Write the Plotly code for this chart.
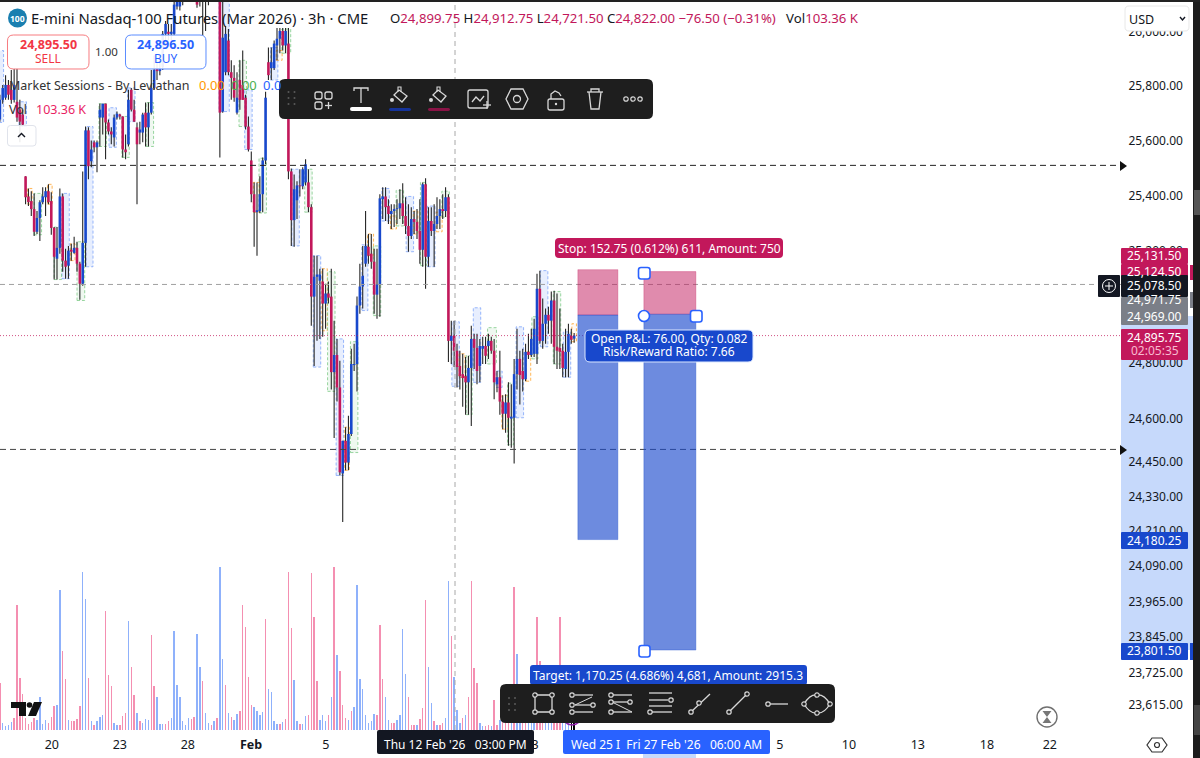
import plotly.graph_objects as go

# ---------- data (bar index = one 3h bar) ----------
high = [25768,25804,25840,25822,25859,25866,25866,25749,25713,25469,25425,25415,25407,25343,25382,25429,25429,25440,25411,25285,25285,25425,25407,25207,25217,25225,25250,25232,25160,25487,25651,25648,25600,25600,25600,25735,25735,25735,25677,25648,25695,25706,25698,25688,25622,25786,25793,25749,25666,25669,25702,25739,25739,25859,25913,25895,25895,26004,26041,26030,26030,26124,26132,26150,26170,26200,26210,26215,26205,26190,26204,26204,26190,26230,26240,26250,26250,26150,26113,26022,26011,25895,25877,25851,25895,25931,25768,25688,25560,25447,25447,25469,25538,25779,25942,25942,25968,26015,26015,26015,26015,26015,25498,25476,25451,25495,25502,25531,25495,25368,25182,25182,25135,25135,25081,25089,25135,24949,24884,24806,24524,24572,24612,24849,24867,25035,25153,25217,25343,25260,25260,25207,25207,25404,25429,25429,25386,25368,25368,25386,25422,25444,25393,25368,25357,25343,25350,25386,25447,25462,25357,25357,25368,25393,25386,25404,25429,25404,24949,24949,24867,24842,24831,24820,24824,24931,24902,24902,24884,24892,24892,24902,24892,24884,24770,24842,24684,24688,24730,24723,24813,24920,24842,24849,24867,24902,24920,24956,25117,25128,25028,24992,24999,25053,25056,25046,24992,24867,24920,24938,24920,24905]
low = [25669,25735,25749,25749,25735,25739,25669,25593,25651,25368,25361,25325,25253,25260,25235,25368,25325,25368,25257,25096,25096,25189,25124,25099,25099,25164,25189,25124,25024,25074,25142,25458,25502,25557,25484,25578,25622,25531,25622,25586,25578,25677,25677,25538,25531,25578,25706,25669,25368,25586,25593,25578,25578,25695,25786,25822,25840,25859,25950,25968,25968,25986,26084,26080,26100,26130,26130,26135,26120,26090,26095,25986,26004,26100,26130,26140,26130,25538,25702,25840,25840,25749,25742,25695,25713,25749,25640,25560,25375,25214,25182,25336,25339,25513,25822,25822,25859,25895,25921,25931,25921,25458,25217,25214,25314,25396,25422,25436,25339,24931,24788,24877,24884,24892,24920,25010,24705,24534,24662,24403,24241,24421,24421,24541,24770,24698,24974,24992,25142,25153,25135,24974,24956,24963,25314,25307,25296,25278,25285,25296,25314,25296,25260,25196,25242,25260,25242,25153,25142,25063,25142,25253,25142,25278,25278,25314,25321,24802,24795,24784,24712,24705,24644,24616,24616,24576,24777,24723,24730,24795,24795,24813,24831,24670,24695,24616,24565,24552,24507,24500,24445,24705,24652,24698,24734,24813,24820,24820,24795,24867,24849,24867,24902,24867,24795,24777,24777,24748,24748,24748,24867,24870]
open_ = [25677,25749,25757,25804,25786,25749,25742,25713,25695,25469,25396,25379,25350,25268,25318,25375,25393,25415,25379,25282,25171,25210,25396,25164,25146,25203,25192,25210,25153,25081,25228,25637,25524,25593,25575,25684,25684,25735,25666,25633,25611,25684,25695,25688,25567,25586,25786,25713,25648,25629,25629,25702,25648,25702,25793,25866,25855,25870,25993,26001,25993,25993,26095,26095,26113,26143,26186,26150,26190,26168,26113,26186,26113,26150,26200,26160,26220,26132,25706,25851,25968,25851,25830,25702,25822,25804,25757,25651,25527,25404,25339,25343,25404,25527,25888,25866,25866,25950,25975,26004,25950,25957,25487,25310,25382,25436,25433,25447,25447,25357,25035,25106,25092,25089,25010,25046,25035,24766,24827,24712,24410,24524,24448,24548,24791,24795,25003,25071,25153,25214,25189,25160,25042,25078,25386,25396,25361,25332,25343,25350,25353,25371,25325,25289,25253,25314,25303,25271,25203,25440,25178,25307,25271,25296,25325,25350,25343,25393,24877,24895,24842,24788,24759,24752,24730,24781,24884,24852,24788,24849,24859,24859,24877,24842,24723,24748,24662,24619,24659,24602,24605,24759,24813,24770,24741,24838,24827,24831,24831,25063,24877,24938,24970,24949,25021,24856,24852,24842,24777,24838,24895,24885]
close = [25749,25793,25804,25768,25749,25804,25684,25669,25658,25393,25375,25350,25268,25318,25375,25396,25415,25375,25282,25178,25210,25396,25164,25142,25200,25196,25210,25153,25081,25228,25637,25506,25567,25575,25593,25713,25735,25666,25633,25622,25684,25698,25688,25567,25557,25749,25713,25669,25586,25640,25695,25648,25702,25793,25859,25855,25866,25993,26030,25993,26001,26102,26120,26132,26150,26186,26150,26190,26140,26102,26186,26113,26150,26200,26160,26220,26150,25702,25979,25993,25851,25830,25757,25757,25749,25749,25651,25567,25404,25339,25346,25404,25527,25757,25840,25888,25957,25975,26004,25950,26004,25487,25310,25422,25436,25433,25495,25513,25357,25035,25106,25114,25114,25010,25046,25031,24766,24827,24712,24414,24524,24448,24548,24795,24795,25003,25071,25110,25217,25182,25160,25042,25078,25389,25396,25357,25332,25343,25350,25353,25371,25325,25289,25253,25314,25303,25271,25203,25440,25178,25307,25271,25296,25325,25350,25343,25393,24877,24895,24842,24784,24752,24745,24730,24781,24884,24852,24770,24859,24859,24824,24877,24842,24730,24748,24662,24619,24659,24605,24609,24759,24813,24756,24741,24838,24827,24884,24920,25063,24877,24938,24970,24949,25021,24856,24842,24838,24781,24838,24902,24881,24895.75]
# volume in thousands of contracts, and the side of each volume bar
volume = [140,20,12,14,24,36,375,156,108,36,18,24,36,30,98,18,30,20,40,72,75,420,237,152,30,26,26,34,72,475,392,156,26,14,28,40,46,357,166,132,22,14,16,42,50,328,190,104,50,28,20,32,30,286,131,98,18,18,18,26,36,298,136,98,28,16,36,32,40,288,188,146,50,20,14,28,36,490,214,134,50,38,30,48,56,376,308,160,76,70,56,46,54,332,124,114,28,18,18,24,32,473,305,150,28,18,18,42,44,470,340,148,30,46,26,44,100,490,224,178,74,36,30,58,68,436,152,122,44,22,26,48,44,314,152,98,30,20,20,30,44,304,168,98,16,16,16,34,66,390,188,80,26,16,16,20,36,448,282,158,60,22,36,46,100,448,186,140,20,12,12,16,12,90,14,30,40,40,30,40,430,228,60,25,20,20,20,40,338,208,90,40,20,20,20,30,338,100,60,30,20,103]
vol_side = list("rbbbbrrrrrrrrbbbbrrrbbrrbrrrrbbrbrbbbrrrbbrrrbrrbrbbbrrbbbrrbbbbbbbrrbbrbbrbrbbrbrbbrrrrrbbbbrbbbbrbrrrbbrbbrrrrbbbrbrbrrrbrbbbbbbbbrrrbbrrbbbbrrrbrrrbbrbrrbbrbbbrbrrrrbbrrbrrbrrrbrbbrrbbbrrrbbbrrrbbb")[:len(volume)]

y_ticks = [26000,25800,25600,25400,25200,25000,24800,24600,24450,24330,24210,24090,23965,23845,23725,23615]
x_tick_bars = [18.2,42,65.8,87.9,114.1,187.3,273,297.2,321.3,345.5,367.5]
x_tick_text = ["20","23","28","<b>Feb</b>","5","3","5","10","13","18","22"]

stop_left, entry_left, target_left = 25131.5, 24969.0, 24180.25
stop_right, entry_right, target_right = 25124.5, 24971.75, 23801.5
last_price = 24895.75
cross_price = 25078.5
level_upper, level_lower = 25509, 24494

zone_start = [22,19.3,27.3,30.5,12.3,10,17,25,38.5,35,43,51.5,45,84,86,77,91,89,95,99,97,102.5,107,110,113,115,118,121,123,127,129,131,134,137,139,142.5,145,147.5,150,153,155,158.5,161,163.5,166,171,174,176,178,181,184.5,186.5,189.5,194,197.5,200.5,0,7]
zone_end = [24,21.3,29.4,32.3,14.3,11,18,26,40.5,37,45,53.5,47,86,88,80,93,90.5,97,101.5,98.5,104.5,109,112,114.3,117,120,122,125,128.5,130.5,133,136,138.5,141,144.5,146,149,152,154.5,157,160.5,162.5,165,168,173.5,175.5,177.5,179.5,183,185.5,188,191.5,196,199.5,201.5,1,9]
zone_high = [25407,25285,25232,25651,25407,25425,25440,25225,25720,25735,25688,25739,25793,25895,25786,26150,25535,25447,25942,26011,25931,25495,25495,25182,25135,25124,24884,24572,24874,25221,25260,25217,25425,25325,25418,25396,25343,25447,25361,25339,25415,24945,24831,24824,24995,24924,24770,24684,24727,24927,24838,24963,25128,25053,24909,24938,25931,25742]
zone_low = [25099,25096,25021,25142,25257,25368,25368,25164,25575,25578,25538,25578,25669,25651,25567,25706,25336,25339,25822,25921,25895,25217,25339,24784,24913,24698,24403,24421,24483,24985,25182,24967,25307,25278,25289,25196,25260,25146,25142,25268,25321,24716,24748,24616,24730,24795,24712,24565,24510,24605,24734,24813,24856,24795,24748,24874,25666,25651]
zone_kind = ["b","g","g","b","g","o","o","o","b","g","g","g","b","g","b","b","g","o","b","g","o","b","g","b","o","g","b","o","g","b","o","g","b","o","g","b","o","g","b","o","g","b","o","g","b","g","b","o","g","b","o","g","b","g","b","o","b","b"]

# ---------- layout constants ----------
PW, PH = 1121.0, 730.0
BLUE, CRIMSON = "#1848cc", "#c2185b"
ZC = {"b": ("rgba(120,160,250,0.75)", "rgba(120,160,250,0.18)"),
      "g": ("rgba(120,200,130,0.75)", "rgba(120,200,130,0.12)"),
      "o": ("rgba(255,170,60,0.85)", "rgba(255,170,60,0.06)")}
FONT = "Noto Sans"
X = lambda x: round(x / PW, 5)
Y = lambda y: round(1 - y / PH, 5)
shapes, notes = [], []


def pth(pts, close=False, fill=None, color=None, w=1.0, layer="above"):
    d = "M " + " L ".join(f"{X(a)},{Y(b)}" for a, b in pts) + (" Z" if close else "")
    shapes.append(dict(type="path", xref="paper", yref="paper", path=d, layer=layer,
                       fillcolor=fill or "rgba(0,0,0,0)",
                       line=dict(color=color or "rgba(0,0,0,0)", width=w)))


def rrect(x0, y0, x1, y1, r=0, fill=None, color=None, w=1.0, layer="above"):
    if r == 0:
        pth([(x0, y0), (x1, y0), (x1, y1), (x0, y1)], True, fill, color, w, layer)
        return
    d = (f"M {X(x0+r)},{Y(y0)} L {X(x1-r)},{Y(y0)} Q {X(x1)},{Y(y0)} {X(x1)},{Y(y0+r)} "
         f"L {X(x1)},{Y(y1-r)} Q {X(x1)},{Y(y1)} {X(x1-r)},{Y(y1)} L {X(x0+r)},{Y(y1)} "
         f"Q {X(x0)},{Y(y1)} {X(x0)},{Y(y1-r)} L {X(x0)},{Y(y0+r)} Q {X(x0)},{Y(y0)} {X(x0+r)},{Y(y0)} Z")
    shapes.append(dict(type="path", xref="paper", yref="paper", path=d, layer=layer,
                       fillcolor=fill or "rgba(0,0,0,0)",
                       line=dict(color=color or "rgba(0,0,0,0)", width=w)))


def circ(cx, cy, r, fill=None, color=None, w=1.0):
    shapes.append(dict(type="circle", xref="paper", yref="paper", x0=X(cx-r), x1=X(cx+r),
                       y0=Y(cy+r), y1=Y(cy-r), fillcolor=fill or "rgba(0,0,0,0)",
                       line=dict(color=color or "rgba(0,0,0,0)", width=w)))


def txt(x, y, s, size=13, color="#131722", anchor="left", font=FONT):
    notes.append(dict(xref="paper", yref="paper", x=X(x), y=Y(y), text=s, showarrow=False,
                      xanchor=anchor, yanchor="middle", borderpad=0,
                      font=dict(family=font, size=size, color=color)))


# ---------- marks ----------
bars = list(range(len(close)))
fig = go.Figure()
fig.add_bar(x=bars, y=volume, yaxis="y2", width=0.5,
            marker=dict(color=["#8fb1fb" if s == "b" else "#f48fb1" for s in vol_side], line_width=0),
            hoverinfo="skip", name="Vol")


def seg(a, b, idx):
    xs, ys = [], []
    for i in idx:
        xs += [i, i, None]
        ys += [a[i], b[i], None]
    return xs, ys


wx, wy = seg(low, high, bars)
fig.add_scatter(x=wx, y=wy, mode="lines", line=dict(color="#262626", width=1.1), hoverinfo="skip", name="wick")
ux, uy = seg(open_, close, [i for i in bars if close[i] >= open_[i]])
dx, dy = seg(open_, close, [i for i in bars if close[i] < open_[i]])
fig.add_scatter(x=ux, y=uy, mode="lines", line=dict(color=BLUE, width=2.6), hoverinfo="skip", name="up")
fig.add_scatter(x=dx, y=dy, mode="lines", line=dict(color=CRIMSON, width=2.6), hoverinfo="skip", name="down")

# right-axis range highlight + bottom band, under the tick labels
rrect(1121, 316, 1193, 650, fill="#c6d9fb", layer="below")
rrect(643, 750, 696, 758, fill="#c6d9fb", layer="below")

# candle zones
for s, e, h, l, k in zip(zone_start, zone_end, zone_high, zone_low, zone_kind):
    shapes.append(dict(type="rect", xref="x", yref="y", x0=s-0.3, x1=e+0.3, y0=l, y1=h, layer="below",
                       fillcolor=ZC[k][1], line=dict(color=ZC[k][0], width=1, dash="3px,2px")))

# horizontal and crosshair levels
for p, c, d in [(level_upper, "#222222", "6px,4px"), (level_lower, "#444444", "6px,4px"),
                (cross_price, "#a0a0a0", "5px,4px"), (last_price, "rgba(194,24,91,0.75)", "1px,2px")]:
    shapes.append(dict(type="line", xref="paper", yref="y", x0=0, x1=1, y0=p, y1=p, layer="above",
                       line=dict(color=c, width=1, dash=d)))
shapes.append(dict(type="line", xref="paper", yref="paper", x0=X(455), x1=X(455), y0=0, y1=1, layer="above",
                   line=dict(color="#a8a8a8", width=1, dash="5px,4px")))

# position tools
for x0, x1, st, en, tg in [(202.3, 216.3, stop_left, entry_left, target_left),
                           (225.4, 243.6, stop_right, entry_right, target_right)]:
    shapes.append(dict(type="rect", xref="x", yref="y", x0=x0, x1=x1, y0=en, y1=st, layer="above",
                       fillcolor="rgba(194,24,91,0.5)", line=dict(color="rgba(194,24,91,0.3)", width=1)))
    shapes.append(dict(type="rect", xref="x", yref="y", x0=x0, x1=x1, y0=tg, y1=en, layer="above",
                       fillcolor="rgba(24,72,204,0.63)", line=dict(color="rgba(24,72,204,0.35)", width=1)))

# level arrows
for yy in (166, 450):
    pth([(1120, yy-5), (1127, yy), (1120, yy+5)], True, "#111111")

# tool handles
rrect(638.5, 267.5, 650, 279, 2.5, "#ffffff", "#2962ff", 1.6)
rrect(690.5, 310.5, 702, 322, 2.5, "#ffffff", "#2962ff", 1.6)
circ(644, 316, 5.5, "#ffffff", "#2962ff", 1.6)
rrect(639, 645.5, 650, 657, 2.5, "#ffffff", "#2962ff", 1.6)

# tool labels
rrect(555, 238, 783, 258, 4, CRIMSON)
txt(669, 248, "Stop: 152.75 (0.612%) 611, Amount: 750", 12, "#ffffff", "center")
rrect(530, 665, 807, 685, 3, BLUE)
txt(668.5, 675, "Target: 1,170.25 (4.686%) 4,681, Amount: 2915.3", 12, "#ffffff", "center")
rrect(585, 330, 753, 362, 5, BLUE, "#dbe6ff", 1)
txt(669, 339, "Open P&L: 76.00, Qty: 0.082", 12, "#ffffff", "center")
txt(669, 352, "Risk/Reward Ratio: 7.66", 12, "#ffffff", "center")

# price labels on the axis
rows = [(248, 264, CRIMSON, "25,131.50", 256), (264, 279, CRIMSON, "25,124.50", 272),
        (297, 325, "#7b7f88", None, 0), (275, 297, "#131722", "25,078.50", 285.5),
        (329, 360, CRIMSON, "24,895.75", 338), (532, 549, BLUE, "24,180.25", 540.5),
        (643, 660, BLUE, "23,801.50", 651)]
for y0, y1, col, t, ym in rows:
    rrect(1121, y0, 1188, y1, 1, col)
    if t:
        txt(1155, ym, t, 12, "#ffffff", "center")
txt(1155, 299, "24,971.75", 12, "#ffffff", "center")
txt(1155, 316, "24,969.00", 12, "#ffffff", "center")
txt(1155, 351, "02:05:35", 12, "#f8bbd0", "center")
rrect(1098, 275, 1120, 297, 1, "#131722")
circ(1109, 286, 6.5, None, "#ffffff", 1)
pth([(1105, 286), (1113, 286)], color="#ffffff")
pth([(1109, 282), (1109, 290)], color="#ffffff")

# date labels on the axis
rrect(377, 730, 534, 754, 2, "#131722")
txt(455.5, 744, "Thu 12 Feb '26&nbsp;&nbsp;&nbsp;03:00 PM", 12, "#ffffff", "center")
rrect(563, 730, 770, 754, 2, "#2962ff")
txt(666.5, 744, "Wed 25 I&nbsp;&nbsp;Fri 27 Feb '26&nbsp;&nbsp;&nbsp;06:00 AM", 12, "#ffffff", "center")

# window edge
rrect(1193, 0, 1200, 758, fill="#1c1c1c")
rrect(0, 0, 1200, 2, fill="#222222")
rrect(1190, 265, 1193, 280, fill=CRIMSON)
rrect(1190, 292, 1193, 308, fill="#7b7f88")
rrect(1190, 643, 1193, 660, fill=BLUE)
rrect(1194, 190, 1200, 215, fill="#555555")
rrect(1194, 705, 1200, 735, fill="#444444")

# header
circ(17.5, 18, 9.5, "#1a7fb0")
txt(17.5, 18, "<b>100</b>", 8.5, "#ffffff", "center")
txt(30, 18, "E-mini Nasdaq-100 Futures (Mar 2026) · 3h · CME", 14.8, "#131722")
R = '<span style="color:#c2185b">'
txt(389, 18, f"O{R}24,899.75</span>&nbsp;H{R}24,912.75</span>&nbsp;L{R}24,721.50</span>&nbsp;C{R}24,822.00</span>&nbsp;{R}−76.50 (−0.31%)</span>&nbsp;&nbsp;&nbsp;Vol{R}103.36 K</span>", 13.2, "#131722")
rrect(7.5, 35, 89, 69, 6, "rgba(255,255,255,0.92)", "#f77c80", 1)
txt(48, 45, "<b>24,895.50</b>", 12.5, "#f23645", "center")
txt(48, 59, "SELL", 12, "#f23645", "center")
txt(107, 51.5, "1.00", 11.5, "#333333", "center")
rrect(125.5, 35, 206, 69, 6, "rgba(255,255,255,0.92)", "#5b8cff", 1)
txt(165.5, 45, "<b>24,896.50</b>", 12.5, "#2962ff", "center")
txt(165.5, 59, "BUY", 12, "#2962ff", "center")
txt(8, 85.5, "Market Sessions - By Leviathan", 12.5, "#333333")
txt(198, 85.5, "0.00", 13, "#ff9800")
txt(230, 85.5, "0.00", 13, "#4caf50")
txt(262, 85.5, "0.0", 13, "#2962ff")
txt(8, 110, "Vol", 12.5, "#333333")
txt(35, 110, "103.36 K", 12.5, "#e91e63")
rrect(7.5, 125.5, 36, 146, 3, "rgba(255,255,255,0.9)", "#e0e3eb", 1)
pth([(18, 137), (21.5, 133.5), (25, 137)], color="#131722", w=1.4)

# USD box
rrect(1125, 6, 1189, 31, 4, "#ffffff", "#e8e8e8", 1)
txt(1128, 19, "USD", 12.5, "#131722")
pth([(1180, 17), (1182.5, 20), (1185, 17)], color="#131722", w=1.4)

# TradingView mark
pth([(11, 702), (26, 702), (26, 716), (19, 716), (19, 708), (11, 708)], True, "#111111")
circ(29.5, 705, 2.8, "#111111")
pth([(34, 702), (42, 702), (36, 716), (28, 716)], True, "#111111")

# hourglass + settings
circ(1047, 717, 10, None, "#707070", 1.4)
pth([(1042.5, 711), (1051.5, 711), (1047, 717), (1051.5, 723), (1042.5, 723), (1047, 717)], True, "#777777")
pth([(1152, 738), (1162, 738), (1167, 745), (1162, 752), (1152, 752), (1147, 745)], True, None, "#333333", 1.2)
circ(1157, 745, 2.5, None, "#333333", 1.2)

# purple arc under the lower toolbar
circ(572, 716, 9, None, "#8e24aa", 1.5)

# ---------- upper toolbar ----------
ICON = "#d8d8d8"
rrect(279, 79, 653, 119, 6, "#1e1e1e")
for gx in (288.5, 294.5):
    for gy in (92, 98, 104):
        circ(gx, gy, 1, "#5a5a5a")
for a, b in [(315, 92), (325, 92), (315, 102)]:
    rrect(a, b, a+7, b+7, 2, None, ICON, 1.3)
pth([(325, 105.5), (332, 105.5)], color=ICON, w=1.3)
pth([(328.5, 102), (328.5, 109)], color=ICON, w=1.3)
pth([(354, 91), (354, 88), (368, 88), (368, 91)], color=ICON, w=1.3)
pth([(361, 88), (361, 103)], color=ICON, w=1.3)
rrect(350, 107, 372, 111, 2, "#ffffff")
for cx, bar in [(400, "#15339a"), (439, "#8a1346")]:
    pth([(cx-6, 95), (cx-1, 90), (cx+7, 96), (cx+2, 102)], True, None, ICON, 1.3)
    pth([(cx-2, 92), (cx-2, 87), (cx+1, 87), (cx+1, 92)], color=ICON, w=1.1)
    circ(cx-8, 100, 2, ICON)
    rrect(cx-11, 108, cx+11, 111, 1.5, bar)
rrect(468, 90, 488, 108, 2, None, ICON, 1.3)
pth([(472, 102), (476, 97), (480, 101), (484, 96)], color=ICON, w=1.3)
pth([(483, 105), (491, 105)], color=ICON, w=1.3)
pth([(487, 101), (487, 109)], color=ICON, w=1.3)
pth([(511, 89), (523, 89), (528, 99), (523, 109), (511, 109), (506, 99)], True, None, ICON, 1.3)
circ(517, 99, 3.5, None, ICON, 1.3)
rrect(548, 99, 564, 110, 2, None, ICON, 1.3)
pth([(551, 99), (551, 94), (555, 91), (559, 93), (561, 96)], color=ICON, w=1.3)
circ(556, 104, 1.2, ICON)
pth([(587, 92), (603, 92)], color=ICON, w=1.3)
pth([(591, 92), (591, 89), (599, 89), (599, 92)], color=ICON, w=1.3)
pth([(589, 92), (591, 109), (599, 109), (601, 92)], color=ICON, w=1.3)
for cx in (626, 633, 640):
    circ(cx, 99, 2.2, None, ICON, 1.2)

# ---------- lower toolbar ----------
rrect(500, 684, 835, 723, 6, "#1e1e1e")
for gx in (509, 515):
    for gy in (698, 704, 710):
        circ(gx, gy, 1, "#5a5a5a")


def hd(x, y):
    circ(x, y, 2.2, "#1e1e1e", ICON, 1.2)


rrect(535, 695, 552, 712, 0, None, ICON, 1.3)
for a, b in [(535, 695), (552, 695), (535, 712), (552, 712)]:
    hd(a, b)
pth([(575, 695), (593, 695)], color=ICON, w=1.3)
pth([(575, 705), (591, 705)], color=ICON, w=1.3)
pth([(575, 712), (593, 712)], color=ICON, w=1.3)
pth([(575, 705), (592, 697)], color=ICON, w=1)
for a, b in [(572, 695), (593, 705), (572, 705), (572, 712)]:
    hd(a, b)
pth([(612, 695), (632, 695)], color=ICON, w=1.3)
pth([(612, 702), (630, 702)], color=ICON, w=1.3)
pth([(612, 712), (632, 712)], color=ICON, w=1.3)
pth([(612, 702), (632, 712)], color=ICON, w=1)
for a, b in [(611, 695), (630, 702), (611, 702), (611, 712)]:
    hd(a, b)
for yy, a, b in [(693, 649, 672), (700, 649, 668), (706, 649, 672), (712, 652, 672)]:
    pth([(a, yy), (b, yy)], color=ICON, w=1.3)
hd(671, 700)
hd(650, 712)
pth([(691, 712), (710, 694)], color=ICON, w=1.3)
hd(691, 712)
hd(699, 703)
pth([(729, 712), (747, 694)], color=ICON, w=1.3)
hd(729, 712)
hd(747, 694)
pth([(770, 704), (788, 704)], color=ICON, w=1.3)
hd(768, 704)
shapes.append(dict(type="path", xref="paper", yref="paper", layer="above", fillcolor="rgba(0,0,0,0)",
                   line=dict(color=ICON, width=1.3),
                   path=f"M {X(804)},{Y(704)} Q {X(810)},{Y(694)} {X(817)},{Y(695)} Q {X(824)},{Y(694)} {X(830)},{Y(704)} "
                        f"Q {X(824)},{Y(714)} {X(817)},{Y(713)} Q {X(810)},{Y(714)} {X(804)},{Y(704)} Z"))
for a, b in [(817, 695), (817, 713), (804, 704), (830, 704)]:
    hd(a, b)

# ---------- figure ----------
fig.update_layout(
    width=1200, height=758, margin=dict(l=0, r=79, t=0, b=28, pad=0),
    paper_bgcolor="#ffffff", plot_bgcolor="rgba(0,0,0,0)", showlegend=False, bargap=0,
    dragmode=False, hovermode=False, shapes=shapes, annotations=notes,
    font=dict(family=FONT, color="#131722"),
    xaxis=dict(range=[0.05, 392.4], tickvals=x_tick_bars, ticktext=x_tick_text, tickangle=0,
               tickfont=dict(size=12.5, color="#131722", family=FONT), showgrid=False, zeroline=False,
               ticks="outside", ticklen=3, tickcolor="rgba(0,0,0,0)", showline=False, automargin=False),
    yaxis=dict(type="log", range=[4.37164, 4.41696], side="right", tickvals=y_ticks,
               ticktext=[f"{v:,.2f}" for v in y_ticks], tickfont=dict(size=12, color="#131722", family=FONT),
               showgrid=False, zeroline=False, ticks="outside", ticklen=4, tickcolor="rgba(0,0,0,0)",
               showline=False, automargin=False),
    yaxis2=dict(overlaying="y", range=[0, 2190], visible=False, fixedrange=True),
)
fig.write_html("out.html", config=dict(displayModeBar=False, staticPlot=True),
               post_script="document.body.style.margin='0';document.body.style.overflow='hidden';")
